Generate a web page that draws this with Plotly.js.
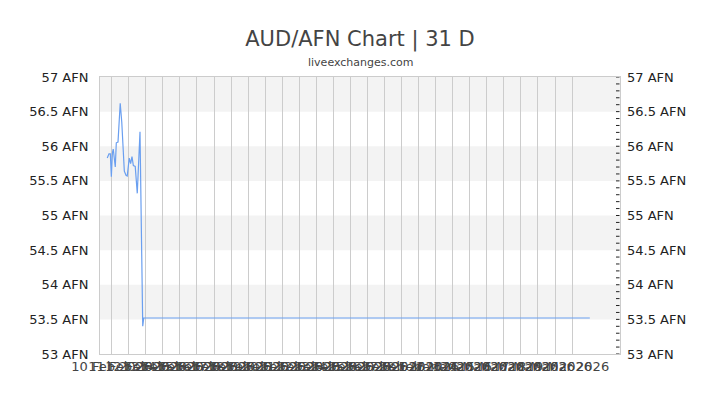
<!DOCTYPE html>
<html>
<head>
<meta charset="utf-8">
<script src="https://cdn.plot.ly/plotly-3.0.1.min.js"></script>
<style>
  html, body { margin: 0; padding: 0; background: #fff; }
  #chart { width: 720px; height: 405px; }
</style>
</head>
<body>
<div id="chart"></div>
<script>
// rate readings, x in days from the first gridline
var days = [-0.26, -0.16, -0.08, -0.02, 0.04, 0.09, 0.21, 0.27, 0.37, 0.50,
            0.59, 0.66, 0.74, 0.84, 0.91, 1.03, 1.11, 1.19, 1.27, 1.38,
            1.50, 1.66, 1.82, 1.88, 28.04];
var rates = [55.83, 55.89, 55.89, 55.56, 55.90, 55.96, 55.70, 56.05, 56.06, 56.62,
             56.35, 55.95, 55.64, 55.58, 55.57, 55.83, 55.75, 55.85, 55.72, 55.71,
             55.32, 56.21, 53.40, 53.52, 53.52];

// date labels under the gridlines
var tickDays = [];
var tickLabels = [];
var months = ['Jan', 'Feb', 'Mar'];
for (var i = 0; i < 28; i++) {
  var d = new Date(Date.UTC(2026, 1, 10 + i));
  tickDays.push(i);
  tickLabels.push(d.getUTCDate() + ' ' + months[d.getUTCMonth()] + ' ' + d.getUTCFullYear());
}

var yTicks = [53, 53.5, 54, 54.5, 55, 55.5, 56, 56.5, 57];
var yLabels = yTicks.map(function (v) { return v + ' AFN'; });

var shapes = [];
// alternating grey bands
for (var j = 1; j < yTicks.length; j += 2) {
  shapes.push({
    type: 'rect', xref: 'paper', x0: 0, x1: 1,
    yref: 'y', y0: yTicks[j], y1: yTicks[j + 1],
    fillcolor: '#f3f3f3', line: {width: 0}, layer: 'below'
  });
}
// small tick dashes at the right edge, every 0.1
for (var k = 0; k <= 40; k++) {
  var v = 53 + k * 0.1;
  shapes.push({
    type: 'line', xref: 'paper', x0: 1 - 4 / 520, x1: 1 - 0.5 / 520,
    yref: 'y', y0: v, y1: v,
    line: {color: '#222', width: 1}, layer: 'above'
  });
}

var trace1 = {
  x: days,
  y: rates,
  type: 'scatter',
  mode: 'lines',
  line: {color: '#6a9ff0', width: 1.2},
  hoverinfo: 'skip',
  showlegend: false
};

var trace2 = {
  x: days,
  y: rates,
  yaxis: 'y2',
  type: 'scatter',
  mode: 'lines',
  line: {width: 0},
  hoverinfo: 'skip',
  showlegend: false
};

var tickFont = {family: 'DejaVu Sans', size: 13, color: '#222'};

var layout = {
  width: 720,
  height: 405,
  margin: {l: 100, r: 100, t: 77, b: 51},
  paper_bgcolor: '#fff',
  plot_bgcolor: '#fff',
  font: {family: 'DejaVu Sans'},
  title: {
    text: 'AUD/AFN Chart | 31 D',
    font: {family: 'DejaVu Sans', size: 21, color: '#444'},
    x: 0.5, xanchor: 'center',
    yref: 'container', y: 0.905, yanchor: 'middle'
  },
  annotations: [{
    text: 'liveexchanges.com',
    xref: 'paper', yref: 'paper', x: 0.5, y: 1.054,
    xanchor: 'center', yanchor: 'middle', showarrow: false,
    font: {family: 'DejaVu Sans', size: 11, color: '#444'}
  }],
  xaxis: {
    range: [-0.686, 29.81],
    tickmode: 'array',
    tickvals: tickDays,
    ticktext: tickLabels,
    tickangle: 0,
    tickfont: {family: 'DejaVu Sans', size: 13, color: '#444'},
    showgrid: true,
    gridcolor: '#cccccc',
    gridwidth: 1,
    zeroline: false,
    showline: true,
    linecolor: '#cccccc',
    mirror: true,
    ticks: ''
  },
  yaxis: {
    range: [53, 57],
    tickmode: 'array',
    tickvals: yTicks,
    ticktext: yLabels,
    tickfont: tickFont,
    showgrid: false,
    zeroline: false,
    showline: true,
    mirror: true,
    linecolor: '#cccccc',
    ticks: '',
    ticklabelstandoff: 8
  },
  yaxis2: {
    overlaying: 'y',
    anchor: 'x',
    side: 'right',
    range: [53, 57],
    tickmode: 'array',
    tickvals: yTicks,
    ticktext: yLabels,
    tickfont: tickFont,
    showgrid: false,
    zeroline: false,
    showline: false,
    ticks: '',
    ticklabelstandoff: 6
  },
  shapes: shapes
};

Plotly.newPlot('chart', [trace1, trace2], layout, {staticPlot: true});
</script>
</body>
</html>
